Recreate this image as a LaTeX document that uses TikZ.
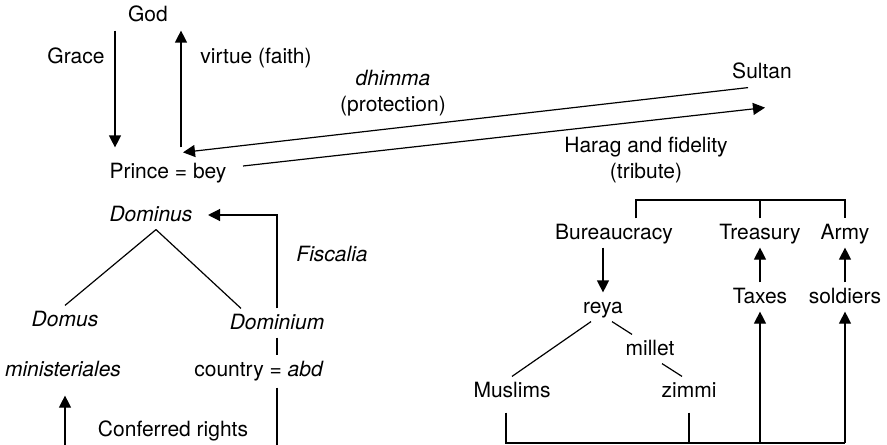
\documentclass[tikz,border=0pt]{standalone}
\usepackage{fontspec}
\setmainfont{TeX Gyre Heros}
\usetikzlibrary{arrows.meta, calc, positioning}

\begin{document}
\begin{tikzpicture}[
  x=0.5pt, y=-0.5pt,
  line width=0.6pt,
  txt/.style={font=\fontsize{10.5}{12.8}\selectfont, inner sep=2pt},
  lbl/.style={txt, text height=8pt, text depth=2pt},
  arr/.style={-{Triangle[length=6pt,width=6pt]}}
]
\useasboundingbox (0,0) rectangle (887,444);

% God, Prince and Sultan
\node[lbl] (god) at (148,16) {God};
\node[lbl] (prince) at (168,172) {Prince = bey};
\node[lbl] (sultan) at (762,73) {Sultan};
\node[lbl] (grace) at (76,58) {Grace};
\node[lbl] (virtue) at (256,58) {virtue (faith)};
\node[txt, align=center] (dhimma) at (393,93) {\textit{dhimma}\\(protection)};
\node[txt, align=center] (harag) at (646,160) {Harag and fidelity\\(tribute)};

\draw[arr] ([xshift=-16.5pt]god.south) -- ([xshift=-26.5pt,yshift=5pt]prince.north);
\draw[arr] ([xshift=6.5pt,yshift=5pt]prince.north) -- ([xshift=16.5pt]god.south);
\draw[arr] ([xshift=-7pt]sultan.south) -- ([xshift=7.5pt,yshift=2.5pt]prince.north);
\draw[arr] ([xshift=6pt,yshift=3pt]prince.east) -- ([xshift=1.5pt,yshift=-10pt]sultan.south);

% left tree
\node[lbl] (dominus) at (151,215) {\textit{Dominus}};
\node[lbl] (domus) at (65,320) {\textit{Domus}};
\node[lbl] (dominium) at (277,323) {\textit{Dominium}};
\node[lbl] (ministeriales) at (63,370) {\textit{ministeriales}};
\node[lbl] (country) at (259,370) {country = \textit{abd}};
\node[lbl] (fiscalia) at (332,255) {\textit{Fiscalia}};
\node[lbl] (conferred) at (173,430) {Conferred rights};

\coordinate (floor) at (0,446);
\coordinate (base) at (0,443);

\draw ([xshift=2.5pt]dominus.south) -- (domus.north);
\draw ([xshift=2.5pt]dominus.south) -- ([xshift=-18pt]dominium.north);
\draw[arr] (dominium.north) |- ([xshift=5.5pt]dominus.east);
\draw (dominium.south) -- (dominium.south |- country.north);
\draw ([yshift=-1.5pt]country.south -| dominium.south) -- (floor -| dominium.south);
\draw[arr] ([xshift=1pt]ministeriales.south |- floor) -- ([xshift=1pt,yshift=-5.5pt]ministeriales.south);

% right tree
\node[lbl] (bureau) at (614,233) {Bureaucracy};
\node[lbl] (treasury) at (760,233) {Treasury};
\node[lbl] (army) at (845,233) {Army};
\node[lbl] (reya) at (603,307) {reya};
\node[lbl] (taxes) at (760,297) {Taxes};
\node[lbl] (soldiers) at (845,297) {soldiers};
\node[lbl] (millet) at (650,349) {millet};
\node[lbl] (muslims) at (512,391) {Muslims};
\node[lbl] (zimmi) at (689,391) {zimmi};

\coordinate (bar) at (0,200);
\draw ([xshift=11pt]bureau.north) |- (bar -| army.north) -- (army.north);
\draw (treasury.north) -- (treasury.north |- bar);
\draw[arr] (bureau.south -| reya.north) -- (reya.north);
\draw ([xshift=-6pt]reya.south) -- (muslims.north);
\draw ([xshift=4.5pt]reya.south) -- ([xshift=-9pt]millet.north);
\draw ([xshift=6pt]millet.south) -- ([xshift=-3.5pt]zimmi.north);
\draw[arr] (taxes) -- (treasury);
\draw[arr] (soldiers) -- (army);

\draw ([xshift=-3pt,yshift=-3.5pt]muslims.south) |- (base -| soldiers.south);
\draw ([yshift=-3.5pt]zimmi.south) -- (base -| zimmi.south);
\draw[arr] (base -| taxes.south) -- (taxes.south);
\draw[arr] (base -| soldiers.south) -- (soldiers.south);

\end{tikzpicture}
\end{document}
